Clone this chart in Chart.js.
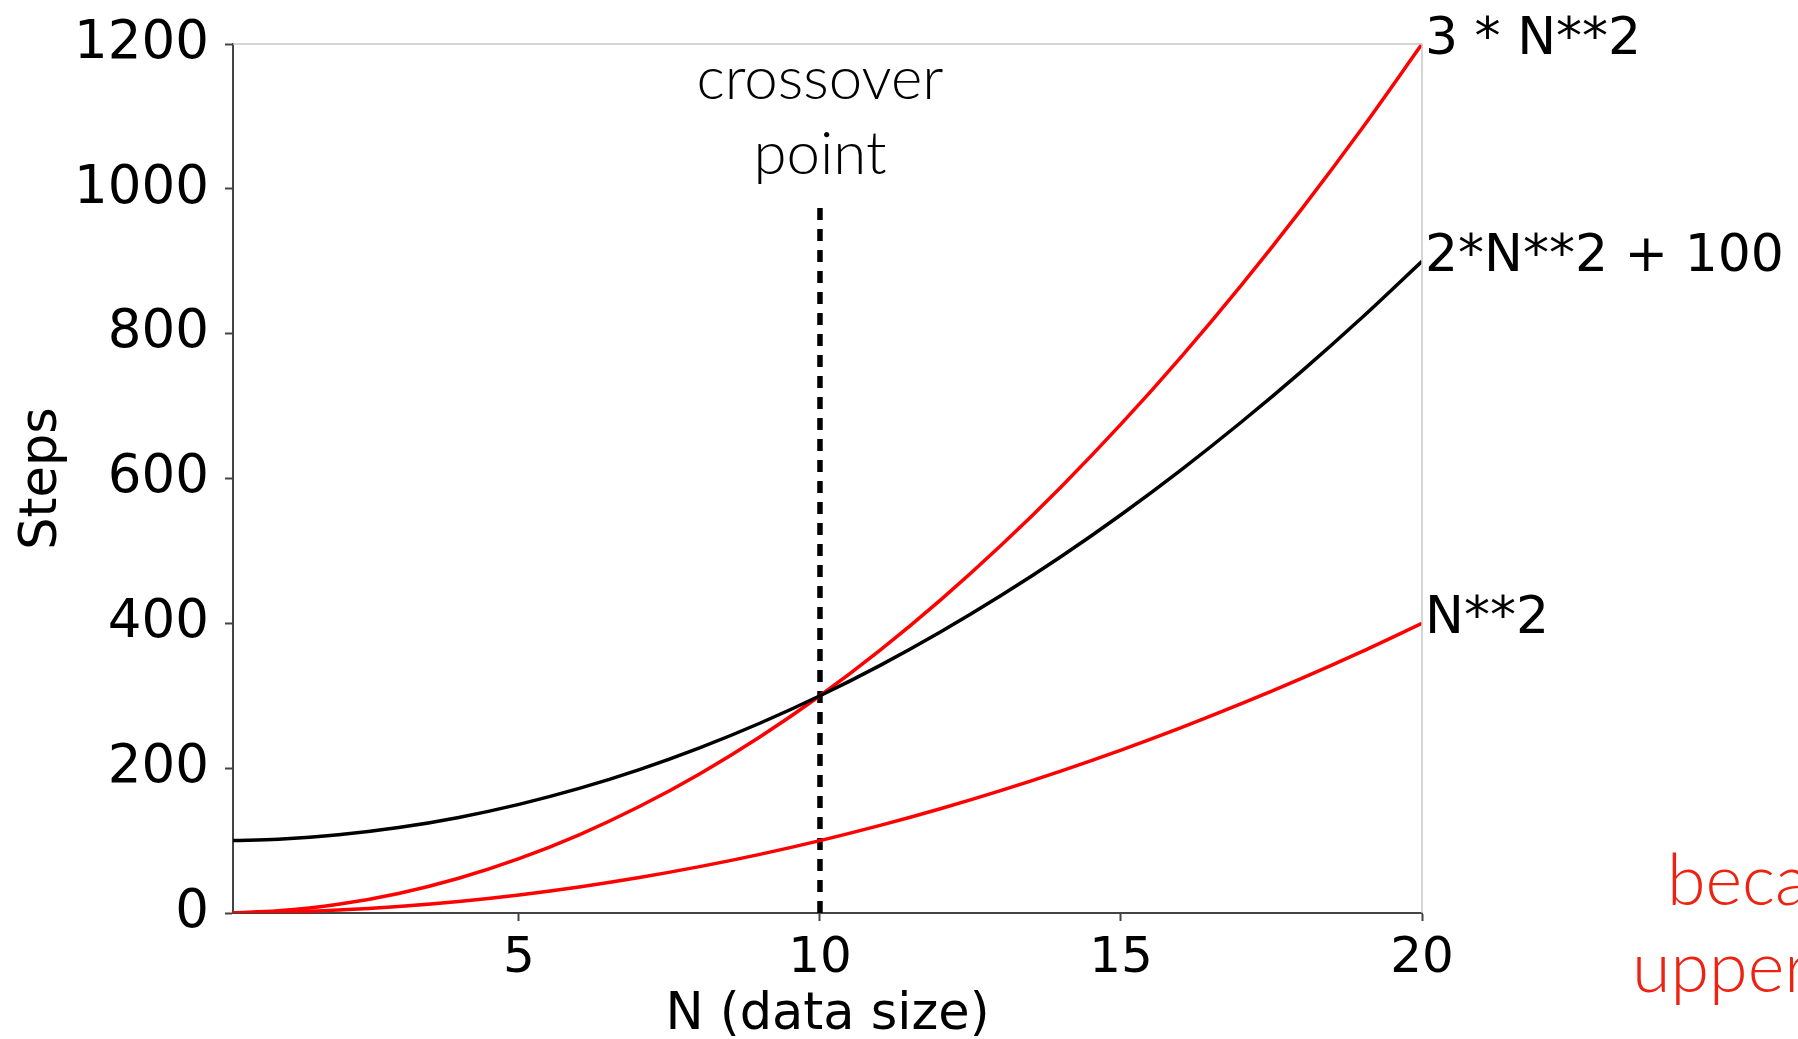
<!DOCTYPE html>
<html>
<head>
<meta charset="utf-8">
<script src="https://cdn.jsdelivr.net/npm/chart.js@4.4.1/dist/chart.umd.min.js"></script>
<style>
  html, body { margin: 0; padding: 0; background: #fff; }
  #wrap { width: 1798px; height: 1039px; position: relative; }
</style>
</head>
<body>
<div id="wrap"><canvas id="c" width="1798" height="1039"></canvas></div>
<script>
// ---- data ----
const nValues   = [0.25, 1, 2, 3, 4, 5, 6, 7, 8, 9, 10, 11, 12, 13, 14, 15, 16, 17, 18, 19, 20];
const seriesN2  = [0.06, 1, 4, 9, 16, 25, 36, 49, 64, 81, 100, 121, 144, 169, 196, 225, 256, 289, 324, 361, 400];
const series3N2 = [0.2, 3, 12, 27, 48, 75, 108, 147, 192, 243, 300, 363, 432, 507, 588, 675, 768, 867, 972, 1083, 1200];
const series2N2p100 = [100, 102, 108, 118, 132, 150, 172, 198, 228, 262, 300, 342, 388, 438, 492, 550, 612, 678, 748, 822, 900];
const seriesLabels = ['N**2', '3 * N**2', '2*N**2 + 100'];
const crossoverN = [10, 10];
const crossoverY = [0, 980];
const xTickValues = [5, 10, 15, 20];
const yTickValues = [0, 200, 400, 600, 800, 1000, 1200];
const xTitle = 'N (data size)';
const yTitle = 'Steps';
const crossoverText = ['crossover', 'point'];
const sideText = ['because', 'upper bound'];

const toPts = (xs, ys) => xs.map((x, i) => ({ x: x, y: ys[i] }));

Chart.defaults.font.family = 'DejaVu Sans';
Chart.defaults.color = '#000';

const overlay = {
  id: 'overlay',
  afterDraw(chart) {
    const ctx = chart.ctx;
    const xs = chart.scales.x, ys = chart.scales.y;
    const a = chart.chartArea;
    ctx.save();
    // light top / right frame
    ctx.strokeStyle = '#c8c8c8';
    ctx.lineWidth = 1.5;
    ctx.beginPath();
    ctx.moveTo(a.left, a.top); ctx.lineTo(a.right, a.top); ctx.lineTo(a.right, a.bottom);
    ctx.stroke();
    // curve end labels
    ctx.fillStyle = '#000';
    ctx.font = '52px DejaVu Sans';
    ctx.textAlign = 'left';
    ctx.textBaseline = 'middle';
    const ends = [seriesN2, series3N2, series2N2p100];
    ends.forEach((s, i) => {
      const v = s[s.length - 1];
      ctx.fillText(seriesLabels[i], xs.getPixelForValue(20) + 3, ys.getPixelForValue(v) - 4);
    });
    // crossover annotation
    ctx.font = '300 60px Lato';
    ctx.textAlign = 'center';
    ctx.textBaseline = 'alphabetic';
    const cx = xs.getPixelForValue(10);
    ctx.fillText(crossoverText[0], cx, 99);
    ctx.fillText(crossoverText[1], cx, 174);
    // red side text (cut off at the right edge)
    ctx.fillStyle = '#ee2211';
    ctx.font = '300 70px Lato';
    ctx.textAlign = 'left';
    ctx.fillText(sideText[0], 1667, 905);
    ctx.fillText(sideText[1], 1632, 992);
    ctx.restore();
  }
};

new Chart(document.getElementById('c'), {
  type: 'line',
  data: {
    datasets: [
      { data: toPts(nValues, series2N2p100), borderColor: '#000', borderWidth: 3.5, pointRadius: 0, tension: 0.4, cubicInterpolationMode: 'monotone' },
      { data: toPts(nValues, series3N2), borderColor: '#ff0000', borderWidth: 3.5, pointRadius: 0, tension: 0.4, cubicInterpolationMode: 'monotone' },
      { data: toPts(nValues, seriesN2), borderColor: '#ff0000', borderWidth: 3.5, pointRadius: 0, tension: 0.4, cubicInterpolationMode: 'monotone' },
      { data: toPts(crossoverN, crossoverY), borderColor: '#000', borderWidth: 5.5, borderDash: [12, 9], pointRadius: 0 }
    ]
  },
  options: {
    responsive: false,
    animation: false,
    events: [],
    layout: { padding: { left: 0, right: 376, top: 44, bottom: 0 } },
    plugins: { legend: { display: false }, tooltip: { enabled: false } },
    scales: {
      x: {
        type: 'linear',
        min: 0.25, max: 20,
        afterBuildTicks: s => { s.ticks = xTickValues.map(v => ({ value: v })); },
        afterFit: s => { s.height = 126; },
        grid: { drawOnChartArea: false, drawTicks: true, tickLength: 8, color: '#444', tickWidth: 2 },
        border: { color: '#444', width: 2 },
        ticks: { font: { size: 50 }, color: '#000', padding: 8, maxRotation: 0, callback: v => String(v) },
        title: { display: true, text: xTitle, font: { size: 51 }, color: '#000', padding: { top: 0, bottom: -7 } }
      },
      y: {
        min: 0, max: 1200,
        afterBuildTicks: s => { s.ticks = yTickValues.map(v => ({ value: v })); },
        afterFit: s => { s.width = 233; s.paddingTop = 0; s.paddingBottom = 0; },
        grid: { drawOnChartArea: false, drawTicks: true, tickLength: 8, color: '#444', tickWidth: 2 },
        border: { color: '#444', width: 2 },
        ticks: { font: { size: 53, lineHeight: 1 }, color: '#000', padding: 16, callback: v => String(v) },
        title: { display: true, text: yTitle, font: { size: 51 }, color: '#000', padding: { top: 12, bottom: 0 } }
      }
    }
  },
  plugins: [overlay]
});
</script>
</body>
</html>
